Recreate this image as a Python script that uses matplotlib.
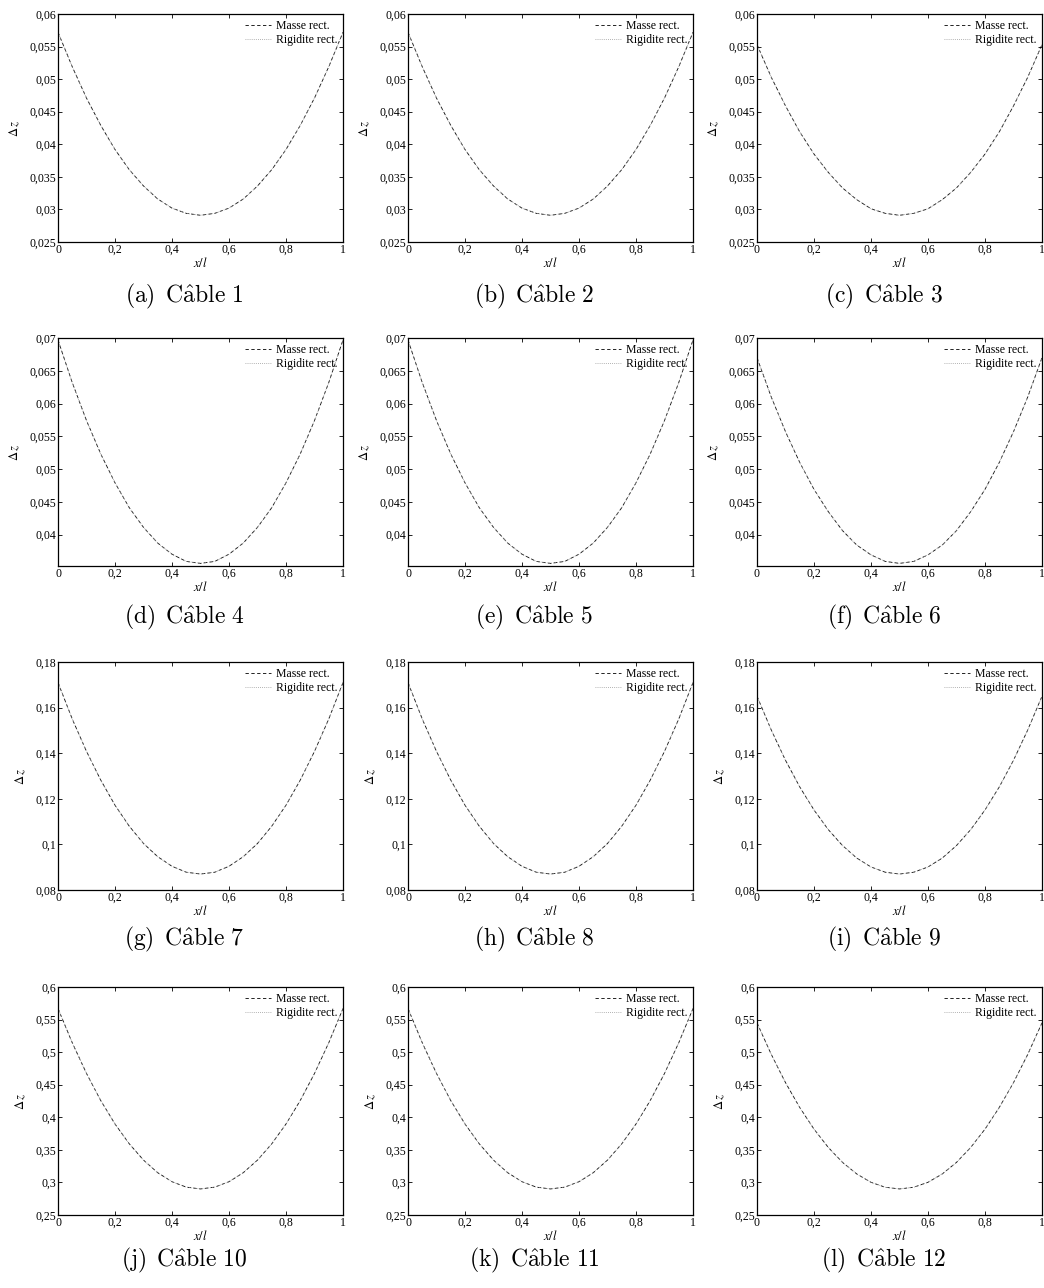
import numpy as np
import matplotlib
matplotlib.use("Agg")
import matplotlib.pyplot as plt
from matplotlib.ticker import FuncFormatter, MultipleLocator

plt.rcParams['font.family'] = ['Liberation Serif', 'DejaVu Serif']
plt.rcParams['mathtext.fontset'] = 'stix'

# abscissa x/l
x = np.linspace(0, 1, 21)

# vertical displacement along each cable (Masse rect. / Rigidite rect. coincide)
cable1 = [0.0572, 0.0519, 0.0471, 0.0429, 0.0392, 0.0361, 0.0336, 0.0316, 0.0302, 0.0294, 0.0291,
          0.0294, 0.0302, 0.0316, 0.0336, 0.0361, 0.0392, 0.0429, 0.0471, 0.0519, 0.0572]
cable2 = [0.0572, 0.0519, 0.0471, 0.0429, 0.0392, 0.0361, 0.0336, 0.0316, 0.0302, 0.0294, 0.0291,
          0.0294, 0.0302, 0.0316, 0.0336, 0.0361, 0.0392, 0.0429, 0.0471, 0.0519, 0.0572]
cable3 = [0.0553, 0.0503, 0.0459, 0.0419, 0.0385, 0.0357, 0.0333, 0.0315, 0.0301, 0.0294, 0.0291,
          0.0294, 0.0301, 0.0315, 0.0333, 0.0357, 0.0385, 0.0419, 0.0459, 0.0503, 0.0553]
cable4 = [0.0697, 0.0632, 0.0574, 0.0523, 0.0479, 0.0441, 0.0411, 0.0387, 0.0370, 0.0359, 0.0356,
          0.0359, 0.0370, 0.0387, 0.0411, 0.0441, 0.0479, 0.0523, 0.0574, 0.0632, 0.0697]
cable5 = [0.0697, 0.0632, 0.0574, 0.0523, 0.0479, 0.0441, 0.0411, 0.0387, 0.0370, 0.0359, 0.0356,
          0.0359, 0.0370, 0.0387, 0.0411, 0.0441, 0.0479, 0.0523, 0.0574, 0.0632, 0.0697]
cable6 = [0.0670, 0.0610, 0.0557, 0.0510, 0.0469, 0.0435, 0.0406, 0.0384, 0.0369, 0.0359, 0.0356,
          0.0359, 0.0369, 0.0384, 0.0406, 0.0435, 0.0469, 0.0510, 0.0557, 0.0610, 0.0670]
cable7 = [0.1710, 0.1550, 0.1408, 0.1282, 0.1172, 0.1080, 0.1004, 0.0946, 0.0904, 0.0878, 0.0870,
          0.0878, 0.0904, 0.0946, 0.1004, 0.1080, 0.1172, 0.1282, 0.1408, 0.1550, 0.1710]
cable8 = [0.1710, 0.1550, 0.1408, 0.1282, 0.1172, 0.1080, 0.1004, 0.0946, 0.0904, 0.0878, 0.0870,
          0.0878, 0.0904, 0.0946, 0.1004, 0.1080, 0.1172, 0.1282, 0.1408, 0.1550, 0.1710]
cable9 = [0.1650, 0.1502, 0.1369, 0.1252, 0.1151, 0.1065, 0.0995, 0.0940, 0.0901, 0.0878, 0.0870,
          0.0878, 0.0901, 0.0940, 0.0995, 0.1065, 0.1151, 0.1252, 0.1369, 0.1502, 0.1650]
cable10 = [0.567, 0.5144, 0.4673, 0.4257, 0.3897, 0.3593, 0.3343, 0.3149, 0.3011, 0.2928, 0.290,
           0.2928, 0.3011, 0.3149, 0.3343, 0.3593, 0.3897, 0.4257, 0.4673, 0.5144, 0.567]
cable11 = [0.567, 0.5144, 0.4673, 0.4257, 0.3897, 0.3593, 0.3343, 0.3149, 0.3011, 0.2928, 0.290,
           0.2928, 0.3011, 0.3149, 0.3343, 0.3593, 0.3897, 0.4257, 0.4673, 0.5144, 0.567]
cable12 = [0.545, 0.4966, 0.4532, 0.4150, 0.3818, 0.3538, 0.3308, 0.3130, 0.3002, 0.2926, 0.290,
           0.2926, 0.3002, 0.3130, 0.3308, 0.3538, 0.3818, 0.4150, 0.4532, 0.4966, 0.545]

cables = [cable1, cable2, cable3, cable4, cable5, cable6,
          cable7, cable8, cable9, cable10, cable11, cable12]
letters = list("abcdefghijkl")

# y range and tick step per row
row_ylim = [(0.025, 0.06), (0.0352, 0.07), (0.08, 0.18), (0.25, 0.6)]
row_ystep = [0.005, 0.005, 0.02, 0.05]
row_yticks_start = [0.025, 0.04, 0.08, 0.25]

W, H = 1044, 1288
fig = plt.figure(figsize=(W / 100, H / 100), dpi=100)

col_left = [58, 408, 757]
row_top = [14, 338, 662, 987]
ax_w, ax_h = 285, 228

def comma(v, pos):
    s = '%g' % round(v, 6)
    return s.replace('.', ',')

for i, yv in enumerate(cables):
    r, c = divmod(i, 3)
    l = col_left[c]
    t = row_top[r]
    ax = fig.add_axes([l / W, 1 - (t + ax_h) / H, ax_w / W, ax_h / H])
    ax.plot(x, yv, ls=(0, (4, 3)), color='black', lw=0.6, label='Masse rect.')
    ax.plot(x, yv, ls=(0, (1, 1.5)), color='#999999', lw=0.6, label='Rigidite rect.')
    ax.set_xlim(0, 1)
    ax.set_ylim(*row_ylim[r])
    ax.xaxis.set_major_locator(MultipleLocator(0.2))
    ax.set_yticks(np.arange(row_yticks_start[r], row_ylim[r][1] + 1e-9, row_ystep[r]))
    ax.xaxis.set_major_formatter(FuncFormatter(comma))
    ax.yaxis.set_major_formatter(FuncFormatter(comma))
    ax.tick_params(direction='in', length=3, width=0.6, top=True, right=True,
                   labelsize=8.5, pad=1.5)
    for sp in ax.spines.values():
        sp.set_linewidth(0.9)
    ax.set_xlabel(r'$x/l$', fontsize=9, labelpad=0)
    ax.set_ylabel(r'$\Delta\,z$', fontsize=9, labelpad=5)
    ax.legend(loc='upper right', frameon=False, fontsize=8.5, handlelength=2.2,
              handletextpad=0.4, borderaxespad=0.1, labelspacing=0.2)
    fig.text((184 + 350 * c) / W, 1 - (296 + 321.5 * r) / H,
             r'$\mathrm{(%s)\ \,C\hat{a}ble\ %d}$' % (letters[i], i + 1),
             ha='center', va='center', fontsize=17, math_fontfamily='cm')

fig.savefig('out.png', dpi=100)
